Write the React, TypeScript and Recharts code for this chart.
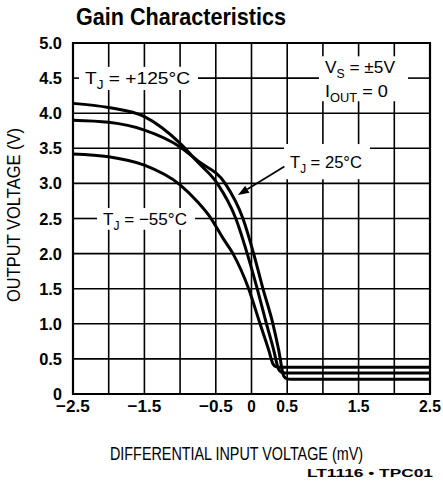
import React from "react";
import {
  LineChart,
  Line,
  XAxis,
  YAxis,
  ReferenceArea,
  ReferenceLine,
} from "recharts";

// grid / tick values
const xTicks = [-2.5, -2, -1.5, -1, -0.5, 0, 0.5, 1, 1.5, 2, 2.5];
const xLabeled = [-2.5, -1.5, -0.5, 0, 0.5, 1.5, 2.5];
const yTicks = [0, 0.5, 1, 1.5, 2, 2.5, 3, 3.5, 4, 4.5, 5];

// T_J = +125°C
const hotX = [-2.5, -2.0, -1.5, -1.0, -0.75, -0.48, -0.22, -0.06, 0.08, 0.21, 0.31, 0.38, 0.42, 0.48, 2.5];
const hotY = [4.14, 4.08, 3.95, 3.57, 3.3, 3.0, 2.5, 2.0, 1.5, 1.0, 0.63, 0.35, 0.31, 0.3, 0.3];

// T_J = 25°C
const roomX = [-2.5, -2.0, -1.5, -1.0, -0.75, -0.37, -0.12, 0.03, 0.16, 0.3, 0.38, 0.45, 0.49, 0.55, 2.5];
const roomY = [3.9, 3.87, 3.76, 3.52, 3.32, 3.0, 2.5, 2.0, 1.5, 1.0, 0.63, 0.26, 0.22, 0.21, 0.21];

// T_J = -55°C
const coldX = [-2.5, -2.0, -1.5, -1.0, -0.75, -0.58, -0.4, -0.26, -0.04, 0.12, 0.24, 0.3, 0.34, 0.4, 2.5];
const coldY = [3.42, 3.38, 3.26, 2.98, 2.73, 2.52, 2.22, 2.0, 1.5, 1.0, 0.63, 0.43, 0.39, 0.38, 0.38];

// annotation boxes (data units); the grid is left open behind them
const notes = [
  { x1: -2.416, x2: -0.749, y1: 4.33, y2: 4.66, lines: [{ main: "T", sub: "J", rest: " = +125°C", w: 105 }] },
  {
    x1: 0.945,
    x2: 2.192,
    y1: 4.17,
    y2: 4.81,
    lines: [
      { main: "V", sub: "S", rest: " = ±5V", w: 70 },
      { main: "I", sub: "OUT", rest: " = 0", w: 63 },
    ],
  },
  { x1: 0.455, x2: 1.66, y1: 3.06, y2: 3.56, lines: [{ main: "T", sub: "J", rest: " = 25°C", w: 72 }] },
  { x1: -2.164, x2: -0.791, y1: 2.34, y2: 2.65, lines: [{ main: "T", sub: "J", rest: " = \u221255°C", w: 84 }] },
];

const toPoints = (xs: number[], ys: number[]) => xs.map((x, i) => ({ x, y: ys[i] }));

// split [lo, hi] around the cut ranges
const openParts = (lo: number, hi: number, cuts: number[][]) => {
  const parts: number[][] = [];
  let start = lo;
  cuts
    .slice()
    .sort((a, b) => a[0] - b[0])
    .forEach(([a, b]) => {
      if (a > start) parts.push([start, a]);
      start = Math.max(start, b);
    });
  if (start < hi) parts.push([start, hi]);
  return parts;
};

const SANS = "'Liberation Sans', Arial, Helvetica, sans-serif";

const Tag = (props: any) => {
  const { viewBox, lines } = props;
  if (!viewBox) return null;
  const { x, y, height } = viewBox;
  const cy = y + height / 2;
  return (
    <g>
      {lines.map((ln: any, i: number) => {
        const base = cy + (i - (lines.length - 1) / 2) * 23.5 + 6;
        return (
          <text
            key={i}
            x={x + 6}
            y={base}
            fontSize={17}
            fontFamily={SANS}
            fill="#000"
            textLength={ln.w}
            lengthAdjust="spacingAndGlyphs"
          >
            {ln.main}
            <tspan fontSize={12} dy={5}>
              {ln.sub}
            </tspan>
            <tspan dy={-5}>{ln.rest}</tspan>
          </text>
        );
      })}
    </g>
  );
};

const Arrow = (props: any) => {
  const { x1, y1, x2, y2 } = props;
  const ang = Math.atan2(y2 - y1, x2 - x1);
  const len = 11;
  const half = 4;
  const bx = x2 - len * Math.cos(ang);
  const by = y2 - len * Math.sin(ang);
  const px = -Math.sin(ang) * half;
  const py = Math.cos(ang) * half;
  return (
    <g>
      <line x1={x1} y1={y1} x2={bx} y2={by} stroke="#000" strokeWidth={1.7} />
      <polygon
        points={`${x2},${y2} ${bx + px},${by + py} ${bx - px},${by - py}`}
        fill="#000"
      />
    </g>
  );
};

const fmtX = (v: number) => {
  if (!xLabeled.includes(v)) return "";
  if (v === 0) return "0";
  return v < 0 ? "\u2212" + Math.abs(v).toFixed(1) : v.toFixed(1);
};
const fmtY = (v: number) => (v === 0 ? "0" : v.toFixed(1));

// condensed bold tick text
const charW: Record<string, number> = { "\u2212": 12, ".": 4.8 };
const NarrowTick = (props: any) => {
  const { x, y, payload, textAnchor, fmt, shift, digit } = props;
  const s = fmt(payload.value);
  if (!s) return null;
  const w = [...s].reduce((a: number, c: string) => a + (charW[c] ?? digit), 0);
  return (
    <text
      x={x}
      y={y}
      dy={shift}
      textAnchor={textAnchor}
      fontSize={17}
      fontWeight={700}
      fontFamily={SANS}
      fill="#000"
      textLength={w}
      lengthAdjust="spacingAndGlyphs"
    >
      {s}
    </text>
  );
};

export default function App() {
  const gridX = xTicks.flatMap((v) =>
    openParts(
      0,
      5,
      notes.filter((n) => n.x1 < v && v < n.x2).map((n) => [n.y1, n.y2])
    ).map(([a, b]) => ({ v, a, b }))
  );
  const gridY = yTicks.flatMap((v) =>
    openParts(
      -2.5,
      2.5,
      notes.filter((n) => n.y1 < v && v < n.y2).map((n) => [n.x1, n.x2])
    ).map(([a, b]) => ({ v, a, b }))
  );

  return (
    <div style={{ position: "absolute", left: 0, top: 0, width: 443, height: 483, background: "#fff" }}>
      <LineChart
        width={443}
        height={483}
        margin={{ top: 43, right: 13, bottom: 59, left: 13 }}
      >
        <XAxis
          dataKey="x"
          type="number"
          domain={[-2.5, 2.5]}
          ticks={xTicks}
          interval={0}
          axisLine={false}
          tickLine={false}
          tickSize={0}
          tickMargin={6}
          height={30}
          tick={<NarrowTick fmt={fmtX} shift="0.71em" digit={8.5} />}
        />
        <YAxis
          type="number"
          domain={[0, 5]}
          ticks={yTicks}
          interval={0}
          axisLine={false}
          tickLine={false}
          tickSize={0}
          tickMargin={11}
          width={60}
          tick={<NarrowTick fmt={fmtY} shift="0.355em" digit={9} />}
        />
        {gridX.map((g, i) => (
          <ReferenceLine
            key={"gx" + i}
            segment={[
              { x: g.v, y: g.a },
              { x: g.v, y: g.b },
            ]}
            stroke="#000"
            strokeWidth={1.6}
          />
        ))}
        {gridY.map((g, i) => (
          <ReferenceLine
            key={"gy" + i}
            segment={[
              { x: g.a, y: g.v },
              { x: g.b, y: g.v },
            ]}
            stroke="#000"
            strokeWidth={1.6}
          />
        ))}
        {notes.map((n, i) => (
          <ReferenceArea
            key={"note" + i}
            x1={n.x1}
            x2={n.x2}
            y1={n.y1}
            y2={n.y2}
            fill="none"
            stroke="none"
            label={<Tag lines={n.lines} />}
          />
        ))}
        <Line
          data={toPoints(coldX, coldY)}
          dataKey="y"
          type="monotone"
          stroke="#000"
          strokeWidth={3}
          dot={false}
          isAnimationActive={false}
        />
        <Line
          data={toPoints(hotX, hotY)}
          dataKey="y"
          type="monotone"
          stroke="#000"
          strokeWidth={3}
          dot={false}
          isAnimationActive={false}
        />
        <Line
          data={toPoints(roomX, roomY)}
          dataKey="y"
          type="monotone"
          stroke="#000"
          strokeWidth={3}
          dot={false}
          isAnimationActive={false}
        />
        <ReferenceLine
          segment={[
            { x: 0.46, y: 3.24 },
            { x: -0.19, y: 2.835 },
          ]}
          shape={<Arrow />}
        />
        <ReferenceArea x1={-2.5} x2={2.5} y1={0} y2={5} fill="none" stroke="#000" strokeWidth={2.2} />
      </LineChart>
      <svg
        width={443}
        height={483}
        style={{ position: "absolute", left: 0, top: 0, pointerEvents: "none" }}
      >
        <text x={76} y={25} fontSize={24} fontWeight={700} fontFamily={SANS} textLength={210} lengthAdjust="spacingAndGlyphs">
          Gain Characteristics
        </text>
        <text
          transform="translate(20,302) rotate(-90)"
          fontSize={19}
          fontFamily={SANS}
          textLength={174}
          lengthAdjust="spacingAndGlyphs"
        >
          OUTPUT VOLTAGE (V)
        </text>
        <text x={110} y={460} fontSize={17.5} fontFamily={SANS} textLength={253} lengthAdjust="spacingAndGlyphs">
          DIFFERENTIAL INPUT VOLTAGE (mV)
        </text>
        <text x={307} y={477} fontSize={10} fontWeight={700} fontFamily={SANS} textLength={126} lengthAdjust="spacingAndGlyphs">
          LT1116 • TPC01
        </text>
      </svg>
    </div>
  );
}
